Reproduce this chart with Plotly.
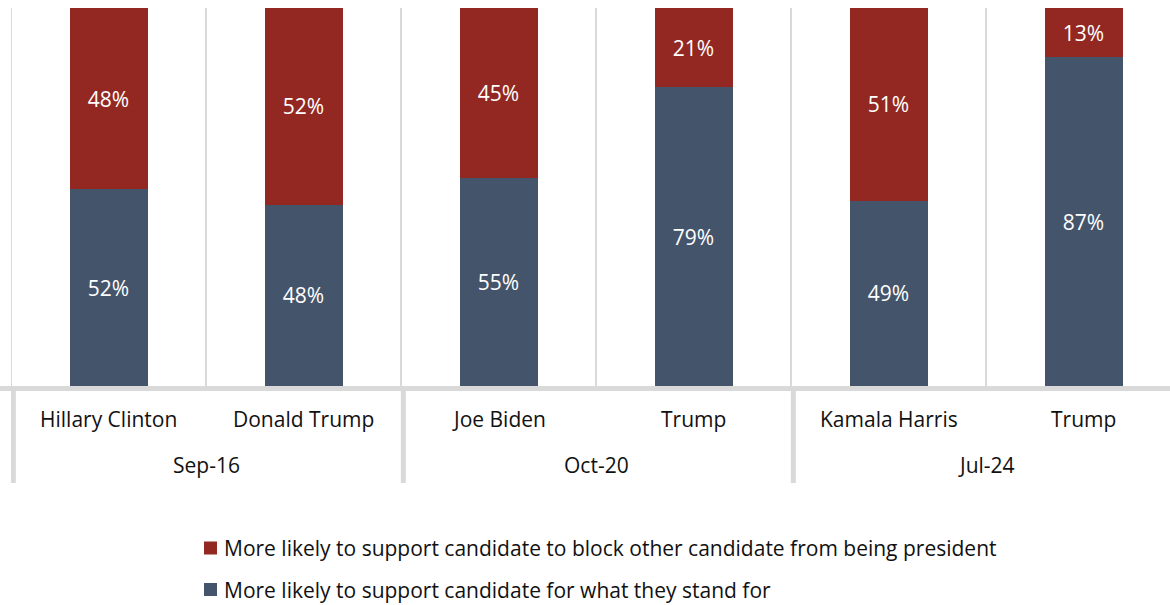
import plotly.graph_objects as go

# Survey data: share of each candidate's supporters by main motivation
candidates = ["Hillary Clinton", "Donald Trump", "Joe Biden", "Trump", "Kamala Harris", "Trump"]
periods = ["Sep-16", "Oct-20", "Jul-24"]
stand_for = [52, 48, 55, 79, 49, 87]
block_other = [48, 52, 45, 21, 51, 13]
series_names = [
    "More likely to support candidate to block other candidate from being president",
    "More likely to support candidate for what they stand for",
]

BLUE = "#44546A"
RED = "#922821"
GRID = "#D9D9D9"
TEXT = "#111111"
FONT = "Open Sans"

W, H = 1170, 605
LEFT, TOP, BOTTOM_PX = 11, 8, 386
PLOT_H = BOTTOM_PX - TOP
CAT_W = 195.0
plot_w = W - LEFT

xs = list(range(len(candidates)))

fig = go.Figure()
fig.add_trace(go.Bar(
    x=xs, y=stand_for, name=series_names[1],
    marker=dict(color=BLUE, line=dict(width=0)), width=0.4,
    text=[f"{v}%" for v in stand_for], textposition="inside", insidetextanchor="middle",
    textfont=dict(color="white", size=21, family=FONT), showlegend=False,
))
fig.add_trace(go.Bar(
    x=xs, y=block_other, name=series_names[0],
    marker=dict(color=RED, line=dict(width=0)), width=0.4,
    text=[f"{v}%" for v in block_other], textposition="inside", insidetextanchor="middle",
    textfont=dict(color="white", size=21, family=FONT), showlegend=False,
))


def py(px):
    """pixel row -> paper y"""
    return (BOTTOM_PX - px) / PLOT_H


def pxx(px):
    """pixel column -> paper x"""
    return (px - LEFT) / plot_w


shapes = []
# vertical gridlines between bars
for k in range(len(candidates)):
    shapes.append(dict(type="line", xref="x", yref="paper", x0=k - 0.5, x1=k - 0.5,
                       y0=0, y1=1, line=dict(color=GRID, width=2), layer="below"))
# group dividers under the axis
for k in range(0, len(candidates), 2):
    shapes.append(dict(type="line", xref="x", yref="paper", x0=k - 0.5 + 0.012, x1=k - 0.5 + 0.012,
                       y0=py(386), y1=py(483), line=dict(color=GRID, width=5), layer="below"))
# axis baseline
shapes.append(dict(type="line", xref="paper", yref="paper", x0=-0.01, x1=1.0,
                   y0=py(388.5), y1=py(388.5), line=dict(color=GRID, width=5), layer="below"))

annotations = []
for i, name in enumerate(candidates):
    annotations.append(dict(x=i, y=0, xref="x", yref="paper", text=name, showarrow=False,
                            yanchor="middle", yshift=-33,
                            font=dict(size=21, color=TEXT, family=FONT)))
for g, p in enumerate(periods):
    annotations.append(dict(x=2 * g + 0.5, y=0, xref="x", yref="paper", text=p, showarrow=False,
                            yanchor="middle", yshift=-79,
                            font=dict(size=21, color=TEXT, family=FONT)))

# legend: swatch + label per series
legend_rows = [(series_names[0], RED, 548.0), (series_names[1], BLUE, 589.5)]
for label, color, cy in legend_rows:
    shapes.append(dict(type="rect", xref="paper", yref="paper",
                       x0=pxx(204), x1=pxx(217), y0=py(cy - 6.5), y1=py(cy + 6.5),
                       fillcolor=color, line=dict(width=0)))
    annotations.append(dict(x=pxx(222), y=py(cy), xref="paper", yref="paper", text=label,
                            showarrow=False, xanchor="left", yanchor="middle",
                            font=dict(size=21, color=TEXT, family=FONT)))

fig.update_layout(
    width=W, height=H,
    margin=dict(l=LEFT, r=0, t=TOP, b=H - BOTTOM_PX, pad=0),
    barmode="stack",
    plot_bgcolor="white", paper_bgcolor="white",
    showlegend=False,
    xaxis=dict(range=[-0.5, -0.5 + plot_w / CAT_W], showticklabels=False, showgrid=False,
               zeroline=False, showline=False, ticks=""),
    yaxis=dict(range=[0, 100], visible=False),
    shapes=shapes, annotations=annotations,
    font=dict(family=FONT),
)

fig.write_html("out.html")
